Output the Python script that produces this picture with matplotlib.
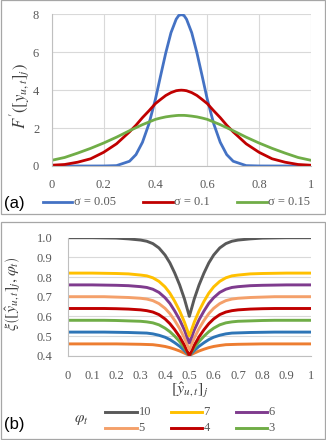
import matplotlib
matplotlib.use('Agg')
import matplotlib.pyplot as plt
from matplotlib.patches import Rectangle
from matplotlib.lines import Line2D

plt.rcParams['mathtext.fontset'] = 'stix'

W, H = 326, 440

# ---- data ----
x_grid = [0, 0.05, 0.1, 0.15, 0.2, 0.25, 0.3, 0.325, 0.35, 0.375, 0.4, 0.42, 0.44, 0.46, 0.48, 0.49, 0.5,
          0.51, 0.52, 0.54, 0.56, 0.58, 0.6, 0.625, 0.65, 0.675, 0.7, 0.75, 0.8, 0.85, 0.9, 0.95, 1.0]

# panel (a): F'
sigma_labels = ['σ = 0.05', 'σ = 0.1', 'σ = 0.15']
f_s005 = [0, 0, 0, 0, 0.002, 0.02, 0.25, 0.6, 1.25, 2.22, 3.52, 4.76, 5.97, 7.03, 7.74, 7.94, 7.98,
          7.94, 7.74, 7.03, 5.97, 4.76, 3.52, 2.22, 1.25, 0.6, 0.25, 0.02, 0.002, 0, 0, 0, 0]
f_s010 = [0.04, 0.08, 0.2, 0.38, 0.72, 1.17, 1.8, 2.15, 2.55, 2.91, 3.29, 3.51, 3.72, 3.87, 3.97, 3.99, 4.0,
          3.99, 3.97, 3.87, 3.72, 3.51, 3.29, 2.91, 2.55, 2.15, 1.8, 1.17, 0.72, 0.38, 0.2, 0.08, 0.04]
f_s015 = [0.3, 0.45, 0.68, 0.93, 1.21, 1.52, 1.86, 2.02, 2.18, 2.32, 2.46, 2.53, 2.59, 2.63, 2.66, 2.67, 2.67,
          2.67, 2.66, 2.63, 2.59, 2.53, 2.46, 2.32, 2.18, 2.02, 1.86, 1.52, 1.21, 0.93, 0.68, 0.45, 0.3]

# panel (b): xi
phi_labels = ['10', '7', '6', '5', '4', '3']
xi_10 = [1.0, 1.0, 1.0, 0.999, 0.998, 0.994, 0.988, 0.982, 0.97, 0.948, 0.912, 0.872, 0.82, 0.76, 0.688, 0.644, 0.6,
         0.644, 0.688, 0.76, 0.82, 0.872, 0.912, 0.948, 0.97, 0.982, 0.988, 0.994, 0.998, 0.999, 1.0, 1.0, 1.0]
xi_7 = [0.82, 0.82, 0.82, 0.819, 0.818, 0.816, 0.81, 0.806, 0.796, 0.778, 0.75, 0.718, 0.676, 0.628, 0.57, 0.535, 0.5,
        0.535, 0.57, 0.628, 0.676, 0.718, 0.75, 0.778, 0.796, 0.806, 0.81, 0.816, 0.818, 0.819, 0.82, 0.82, 0.82]
xi_6 = [0.76, 0.76, 0.76, 0.759, 0.758, 0.756, 0.751, 0.747, 0.738, 0.722, 0.695, 0.666, 0.627, 0.583, 0.53, 0.497, 0.465,
        0.497, 0.53, 0.583, 0.627, 0.666, 0.695, 0.722, 0.738, 0.747, 0.751, 0.756, 0.758, 0.759, 0.76, 0.76, 0.76]
xi_5 = [0.70, 0.70, 0.70, 0.70, 0.698, 0.696, 0.692, 0.688, 0.68, 0.665, 0.641, 0.614, 0.579, 0.538, 0.489, 0.46, 0.43,
        0.46, 0.489, 0.538, 0.579, 0.614, 0.641, 0.665, 0.68, 0.688, 0.692, 0.696, 0.698, 0.70, 0.70, 0.70, 0.70]
xi_4 = [0.64, 0.64, 0.64, 0.64, 0.639, 0.637, 0.633, 0.629, 0.622, 0.609, 0.587, 0.563, 0.532, 0.496, 0.453, 0.426, 0.40,
        0.426, 0.453, 0.496, 0.532, 0.563, 0.587, 0.609, 0.622, 0.629, 0.633, 0.637, 0.639, 0.64, 0.64, 0.64, 0.64]
xi_3 = [0.58, 0.58, 0.58, 0.58, 0.579, 0.577, 0.575, 0.572, 0.567, 0.557, 0.54, 0.522, 0.499, 0.472, 0.44, 0.42, 0.40,
        0.42, 0.44, 0.472, 0.499, 0.522, 0.54, 0.557, 0.567, 0.572, 0.575, 0.577, 0.579, 0.58, 0.58, 0.58, 0.58]
xi_2 = [0.52, 0.52, 0.52, 0.52, 0.519, 0.518, 0.516, 0.515, 0.511, 0.504, 0.494, 0.482, 0.466, 0.448, 0.426, 0.413, 0.40,
        0.413, 0.426, 0.448, 0.466, 0.482, 0.494, 0.504, 0.511, 0.515, 0.516, 0.518, 0.519, 0.52, 0.52, 0.52, 0.52]
xi_1 = [0.46, 0.46, 0.46, 0.46, 0.46, 0.459, 0.458, 0.457, 0.456, 0.452, 0.447, 0.441, 0.433, 0.424, 0.413, 0.407, 0.40,
        0.407, 0.413, 0.424, 0.433, 0.441, 0.447, 0.452, 0.456, 0.457, 0.458, 0.459, 0.46, 0.46, 0.46, 0.46, 0.46]

# colours
c_a = ['#4472C4', '#C00000', '#70AD47']
c_b = ['#595959', '#FFC000', '#7F3B8E', '#F4A06A', '#C00000', '#70AD47']
c_b_extra = ['#2E75B6', '#ED7D31']   # two unlabelled curves (0.52 and 0.46)

grid_c = '#D9D9D9'
tick_c = '#595959'
serif = ['Liberation Serif', 'DejaVu Serif']


def fx(px):
    return px / W


def fy(py):
    return 1 - py / H


fig = plt.figure(figsize=(W / 100, H / 100), dpi=100)

# panel frames
for y0, y1 in [(0.5, 214), (222, 439)]:
    fig.add_artist(Rectangle((fx(1), fy(y1)), fx(324), (y1 - y0) / H, transform=fig.transFigure,
                             fill=False, edgecolor='#A6A6A6', lw=0.9))


def style_axes(ax):
    for s in ['top', 'right']:
        ax.spines[s].set_visible(False)
    ax.spines['left'].set_color('#BFBFBF')
    ax.spines['bottom'].set_color('#BFBFBF')
    ax.tick_params(length=0, colors=tick_c, labelsize=9)
    for lab in ax.get_xticklabels() + ax.get_yticklabels():
        lab.set_family(serif)
    ax.set_axisbelow(True)


# ---- panel (a) ----
ax1 = fig.add_axes([fx(51.7), fy(166), (311 - 51.7) / W, (166 - 14.3) / H])
for ys, c in zip([f_s005, f_s010, f_s015], c_a):
    ax1.plot(x_grid, ys, color=c, lw=2.0, solid_capstyle='round')
ax1.set_xlim(0, 1)
ax1.set_ylim(0, 8)
ax1.set_xticks([0, 0.2, 0.4, 0.6, 0.8, 1])
ax1.set_xticklabels(['0', '0.2', '0.4', '0.6', '0.8', '1'])
ax1.set_yticks([0, 2, 4, 6, 8])
ax1.grid(True, color=grid_c, lw=0.8)
style_axes(ax1)
ax1.tick_params(axis='x', pad=9)
ax1.tick_params(axis='y', pad=9)
fig.text(fx(20), fy(96), r"$F'\left([y_{u,t}]_j\right)$", rotation=90, ha='center', va='center',
         fontsize=12, color='#404040')

# legend (a)
fig.text(fx(4), fy(203), '(a)', fontsize=12, ha='left', va='center', family=['Liberation Sans', 'DejaVu Sans'])
for (x0, x1), c, lab in zip([(43, 72), (143, 173), (237, 267)], c_a, sigma_labels):
    fig.add_artist(Line2D([fx(x0), fx(x1)], [fy(202), fy(202)], color=c, lw=2.0, transform=fig.transFigure))
    fig.text(fx(x1 + 1.5), fy(202), lab, fontsize=9, color=tick_c, ha='left', va='center', family=serif)

# ---- panel (b) ----
ax2 = fig.add_axes([fx(67.7), fy(355.7), (311 - 67.7) / W, (355.7 - 237.7) / H])
b_series = [xi_10, xi_7, xi_6, xi_5, xi_4, xi_3]
extra = [xi_2, xi_1]
for ys, c in zip(extra[::-1], c_b_extra[::-1]):
    ax2.plot(x_grid, ys, color=c, lw=2.1)
for ys, c in zip(b_series[::-1], c_b[::-1]):
    ax2.plot(x_grid, ys, color=c, lw=2.1)
ax2.set_xlim(0, 1)
ax2.set_ylim(0.4, 1.0)
ax2.set_xticks([i / 10 for i in range(11)])
ax2.set_xticklabels(['0'] + ['0.%d' % i for i in range(1, 10)] + ['1'])
ax2.set_yticks([0.4, 0.5, 0.6, 0.7, 0.8, 0.9, 1.0])
ax2.set_yticklabels(['0.4', '0.5', '0.6', '0.7', '0.8', '0.9', '1.0'])
ax2.grid(True, axis='y', color=grid_c, lw=0.8)
style_axes(ax2)
ax2.tick_params(axis='x', pad=10)
ax2.tick_params(axis='y', pad=11)
fig.text(fx(13), fy(294), r"$\xi\left([\hat{y}_{u,t}]_j,\varphi_t\right)$", rotation=90, ha='center',
         va='center', fontsize=11.5, color='#404040')
fig.text(fx(190), fy(390), r"$[\hat{y}_{u,t}]_j$", ha='center', va='center', fontsize=11.5, color='#404040')

# legend (b)
fig.text(fx(4), fy(424), '(b)', fontsize=12, ha='left', va='center', family=['Liberation Sans', 'DejaVu Sans'])
fig.text(fx(81), fy(419), r"$\varphi_t$", ha='center', va='center', fontsize=11, color='#404040')
cols = [(105, 137), (171, 202), (236, 267)]
rows = [412, 428]
for i, (lab, c) in enumerate(zip(phi_labels, c_b)):
    x0, x1 = cols[i % 3]
    yy = rows[i // 3]
    fig.add_artist(Line2D([fx(x0), fx(x1)], [fy(yy), fy(yy)], color=c, lw=2.1, transform=fig.transFigure))
    fig.text(fx(x1 + 1.5), fy(yy), lab, fontsize=9, color=tick_c, ha='left', va='center', family=serif)

fig.savefig('out.png', dpi=100)
